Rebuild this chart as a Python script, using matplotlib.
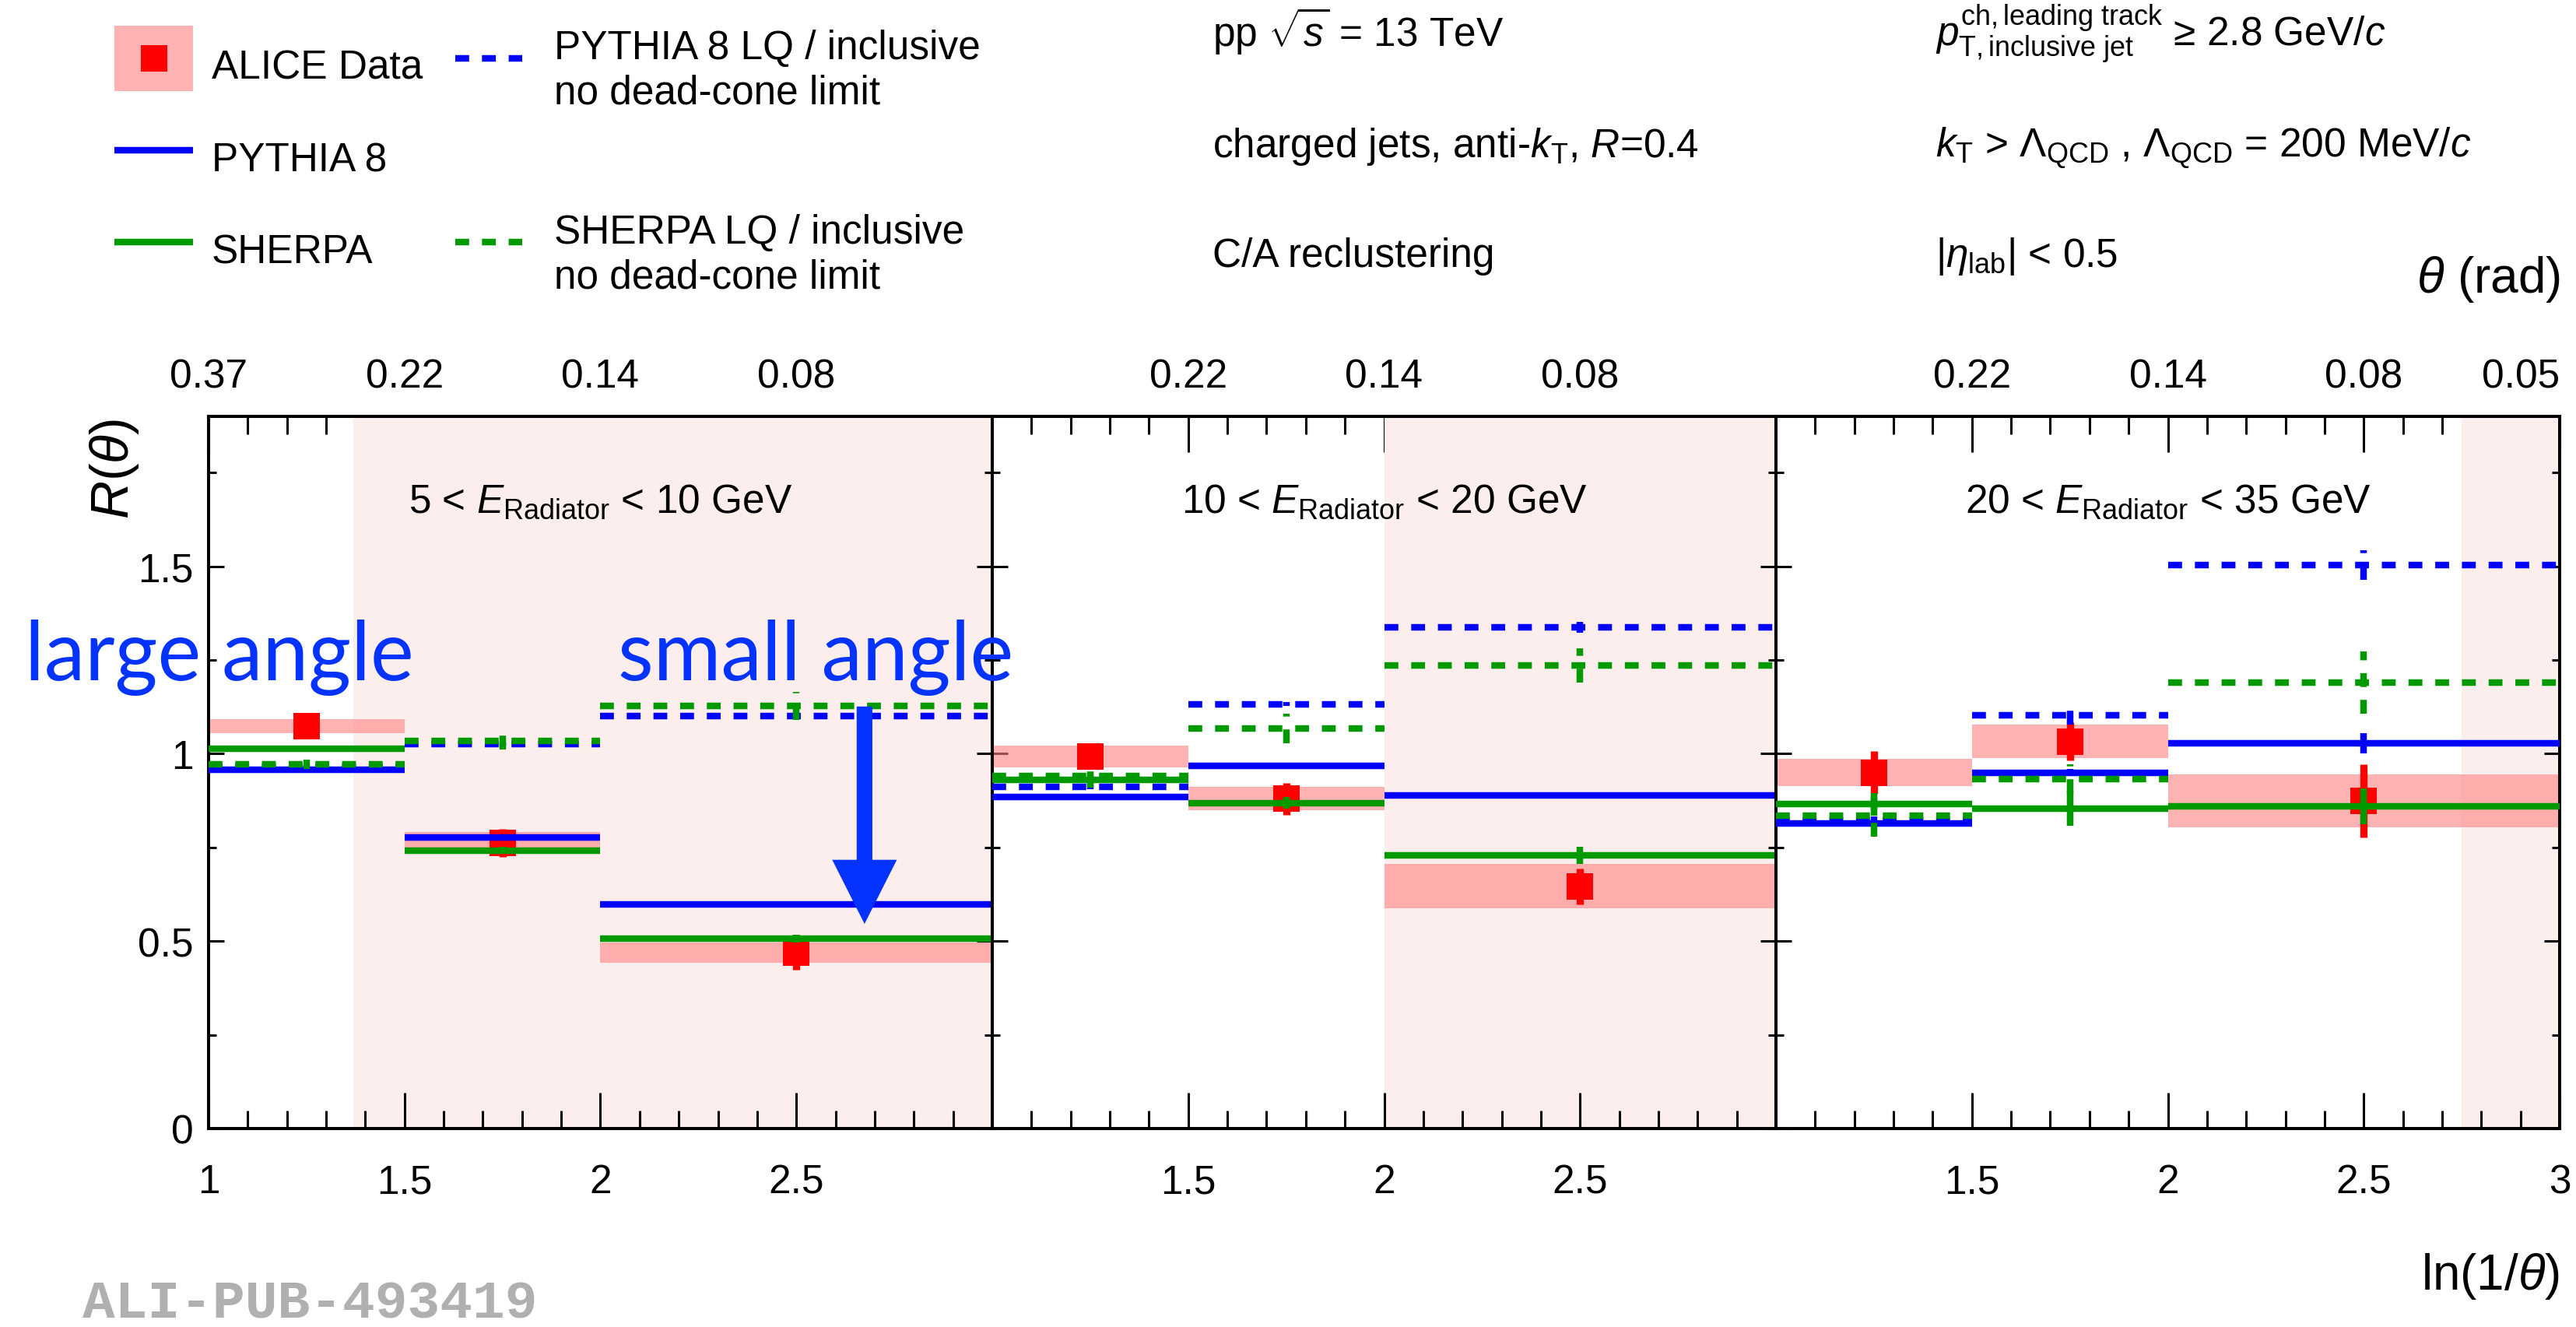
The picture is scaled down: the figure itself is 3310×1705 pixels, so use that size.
import numpy as np
import matplotlib
matplotlib.use('Agg')
import matplotlib.pyplot as plt
from matplotlib.ticker import MultipleLocator
from matplotlib.patches import Rectangle

plt.rcParams['font.family'] = ['Liberation Sans', 'DejaVu Sans']
plt.rcParams['mathtext.fontset'] = 'custom'
plt.rcParams['mathtext.rm'] = 'Liberation Sans'
plt.rcParams['mathtext.it'] = 'Liberation Sans:italic'
plt.rcParams['mathtext.bf'] = 'Liberation Sans:bold'

######################################
# data: R(theta) in bins of ln(1/theta), three E_Radiator intervals

bin_edges = [1.0, 1.5, 2.0, 3.0]
bin_centres = [1.25, 1.75, 2.5]

e_labels = [r'5 < $E_{\rm Radiator}$ < 10 GeV',
            r'10 < $E_{\rm Radiator}$ < 20 GeV',
            r'20 < $E_{\rm Radiator}$ < 35 GeV']
dead_cone_from = [1.37, 2.0, 2.75]

alice      = [[1.073, 0.762, 0.470], [0.993, 0.880, 0.646], [0.950, 1.033, 0.874]]
alice_stat = [[0.015, 0.037, 0.047], [0.015, 0.043, 0.048], [0.057, 0.050, 0.097]]
alice_sys  = [[0.019, 0.030, 0.027], [0.029, 0.031, 0.059], [0.037, 0.044, 0.071]]

pythia        = [[0.958, 0.776, 0.597], [0.885, 0.968, 0.888], [0.815, 0.950, 1.027]]
pythia_err    = [[0.004, 0.005, 0.005], [0.004, 0.005, 0.008], [0.008, 0.010, 0.027]]
pythia_lq     = [[0.965, 1.025, 1.100], [0.911, 1.132, 1.337], [0.822, 1.103, 1.503]]
pythia_lq_err = [[0.004, 0.005, 0.008], [0.005, 0.005, 0.015], [0.010, 0.025, 0.039]]
sherpa        = [[1.014, 0.742, 0.507], [0.930, 0.869, 0.728], [0.865, 0.854, 0.860]]
sherpa_err    = [[0.005, 0.010, 0.010], [0.020, 0.015, 0.023], [0.030, 0.047, 0.048]]
sherpa_lq     = [[0.972, 1.034, 1.127], [0.940, 1.067, 1.236], [0.834, 0.933, 1.189]]
sherpa_lq_err = [[0.013, 0.022, 0.037], [0.025, 0.039, 0.046], [0.055, 0.038, 0.083]]

x_ticks = [1.0, 1.5, 2.0, 2.5, 3.0]
x_tick_labels = ['1', '1.5', '2', '2.5', '3']
theta_tick_labels = ['0.37', '0.22', '0.14', '0.08', '0.05']
# which of the ticks get a label, per panel
shown = [[1, 1, 1, 1, 0], [0, 1, 1, 1, 0], [0, 1, 1, 1, 1]]

y_ticks = [0, 0.5, 1.0, 1.5]
y_tick_labels = ['0', '0.5', '1', '1.5']

# arrow in first panel (ln(1/theta), R)
arrow_x, arrow_top, arrow_tip = 2.674, 1.126, 0.546

######################################

BLUE = '#0000ff'
GREEN = '#009900'
RED = '#ff0000'
ANN = '#0433ff'
LW = 6.1
DASH = (2.1, 1.95)
FS = 37

W, H = 3310, 1706
fig = plt.figure(figsize=(W / 100, H / 100), dpi=100)

px_l, px_r, px_t, px_b = 268, 3289, 536, 1451
pw = (px_r - px_l) / 3

models = [
    (pythia, pythia_err, BLUE, None, 4.0),
    (pythia_lq, pythia_lq_err, BLUE, DASH, 4.1),
    (sherpa, sherpa_err, GREEN, None, 4.2),
    (sherpa_lq, sherpa_lq_err, GREEN, DASH, 4.3),
]

for i in range(3):
    ax = fig.add_axes([(px_l + i * pw) / W, 1 - px_b / H, pw / W, (px_b - px_t) / H])
    ax.set_xlim(1, 3)
    ax.set_ylim(0, 1.9)

    ax.axvspan(dead_cone_from[i], 3.0, color='#fdeeee', lw=0, zorder=0.2)

    lo = np.array(bin_edges[:-1])
    hi = np.array(bin_edges[1:])
    val = np.array(alice[i])
    sys = np.array(alice_sys[i])
    ax.bar(bin_centres, 2 * sys, width=hi - lo, bottom=val - sys,
           color='#ff8080', alpha=0.6, lw=0, zorder=2)
    ax.errorbar(bin_centres, val, yerr=alice_stat[i], fmt='s', ms=24, mew=0,
                color=RED, elinewidth=6.7, capsize=0, zorder=3)

    for vals, errs, col, dash, z in models:
        for j in range(3):
            kw = dict(color=col, lw=LW, zorder=z, solid_capstyle='butt', dash_capstyle='butt')
            if dash is not None:
                kw['dashes'] = dash
            ax.plot([bin_edges[j], bin_edges[j + 1]], [vals[i][j], vals[i][j]], **kw)
            ax.plot([bin_centres[j], bin_centres[j]],
                    [vals[i][j] - errs[i][j], vals[i][j] + errs[i][j]], **kw)

    ax.text(0.5, 0.866, e_labels[i], transform=ax.transAxes, ha='center',
            va='baseline', fontsize=FS, zorder=6)

    labs = [l if s else '' for l, s in zip(x_tick_labels, shown[i])]
    ax.set_xticks(x_ticks, labs)
    ax.xaxis.set_minor_locator(MultipleLocator(0.1))
    ax.set_yticks(y_ticks, y_tick_labels if i == 0 else [''] * 4)
    ax.yaxis.set_minor_locator(MultipleLocator(0.25))
    ax.tick_params(axis='x', which='both', direction='in', top=False, bottom=True,
                   width=2.2, labelsize=FS, pad=32)
    ax.tick_params(axis='x', which='major', length=33)
    ax.tick_params(axis='x', which='minor', length=16.5)
    ax.tick_params(axis='y', which='both', direction='in', left=True, right=True,
                   width=2.2, labelsize=FS, pad=14)
    ax.tick_params(axis='y', which='major', length=14.4)
    ax.tick_params(axis='y', which='minor', length=7.2)
    for sp in ax.spines.values():
        sp.set_linewidth(2.9)

    top = ax.secondary_xaxis('top')
    tlabs = [l if s else '' for l, s in zip(theta_tick_labels, shown[i])]
    top.set_xticks(x_ticks, tlabs)
    top.xaxis.set_minor_locator(MultipleLocator(0.1))
    top.tick_params(axis='x', which='both', direction='in', width=2.2,
                    labelsize=FS, pad=19)
    top.tick_params(axis='x', which='major', length=33)
    top.tick_params(axis='x', which='minor', length=16.5)
    top.spines['top'].set_linewidth(2.9)
    if shown[i][-1]:
        # keep the last theta label inside the figure
        top.xaxis.get_majorticklabels()[-1].set_horizontalalignment('right')

    if i == 0:
        ax.arrow(arrow_x, arrow_top, 0, arrow_tip - arrow_top, width=0.04,
                 head_width=0.165, head_length=0.171, length_includes_head=True,
                 color=ANN, lw=0, zorder=7)

######################################
# overlay in pixel units for legend and labels

ov = fig.add_axes([0, 0, 1, 1], zorder=5)
ov.set_xlim(0, W)
ov.set_ylim(H, 0)
ov.axis('off')

ov.add_patch(Rectangle((147, 34), 101, 84, color='#ff8080', alpha=0.6, lw=0))
ov.plot([197.5], [76], 's', ms=24, mew=0, color=RED)
ov.text(272, 101, 'ALICE Data', fontsize=FS, va='baseline')

ov.plot([585, 671], [76, 76], color=BLUE, lw=LW, dashes=DASH, dash_capstyle='butt')
ov.text(712, 76, 'PYTHIA 8 LQ / inclusive', fontsize=FS, va='baseline')
ov.text(712, 133, 'no dead-cone limit', fontsize=FS, va='baseline')

ov.plot([147, 248], [194, 194], color=BLUE, lw=LW, solid_capstyle='butt')
ov.text(272, 220, 'PYTHIA 8', fontsize=FS, va='baseline')

ov.plot([147, 248], [312, 312], color=GREEN, lw=LW, solid_capstyle='butt')
ov.text(272, 338, 'SHERPA', fontsize=FS, va='baseline')

ov.plot([585, 671], [312, 312], color=GREEN, lw=LW, dashes=DASH, dash_capstyle='butt')
ov.text(712, 313, 'SHERPA LQ / inclusive', fontsize=FS, va='baseline')
ov.text(712, 370, 'no dead-cone limit', fontsize=FS, va='baseline')

ov.text(1558, 60, r'pp $\sqrt{s}$ = 13 TeV', fontsize=FS, va='baseline')
ov.text(1558, 202, r'charged jets, anti-$k_{\rm T}$, $R$=0.4', fontsize=FS, va='baseline')
ov.text(1558, 343, 'C/A reclustering', fontsize=FS, va='baseline')
ov.text(2487, 60, r'$p_{\rm T,inclusive\ jet}^{\rm ch,leading\ track}$ ≥ 2.8 GeV/$c$',
        fontsize=FS, va='baseline')
ov.text(2487, 202, r'$k_{\rm T}$ > $\Lambda_{\rm QCD}$ , $\Lambda_{\rm QCD}$ = 200 MeV/$c$',
        fontsize=FS, va='baseline')
ov.text(2487, 343, r'$|\eta_{\rm lab}|$ < 0.5', fontsize=FS, va='baseline')

ov.text(3290, 376, r'$\theta$ (rad)', fontsize=46, ha='right', va='baseline')
ov.text(3289, 1640, r'ln(1/$\theta$)', fontsize=46, ha='right', va='center')
ov.text(147, 538, r'$R$($\theta$)', fontsize=49, rotation=90, ha='center', va='top')

ov.text(32, 874, 'large angle', fontsize=76, color=ANN, va='baseline', family='Lato')
ov.text(794, 874, 'small angle', fontsize=76, color=ANN, va='baseline', family='Lato')

ov.text(106, 1694, 'ALI-PUB-493419', fontsize=50, color='#b0b0b0',
        family='Liberation Mono', weight='bold', va='baseline')

fig.savefig('out.png', dpi=100)
